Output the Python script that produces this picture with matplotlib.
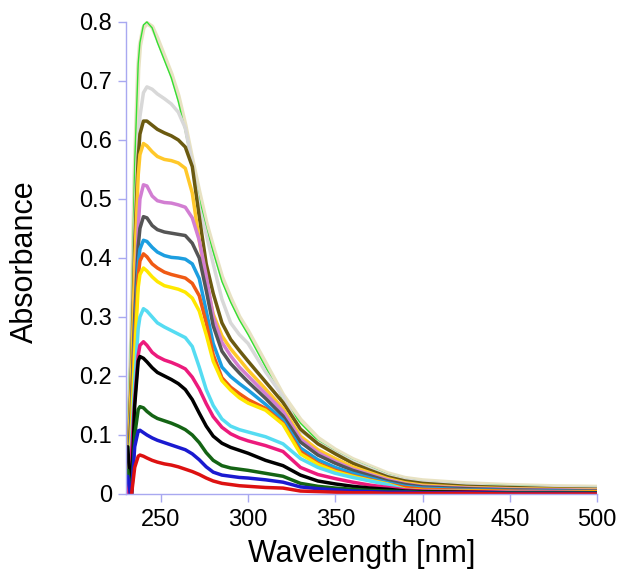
import matplotlib
matplotlib.use("Agg")
import matplotlib.pyplot as plt

plt.rcParams['font.family'] = ['Liberation Sans', 'DejaVu Sans']

wavelength = [231, 233, 235, 237, 238, 240, 242, 245, 248, 252, 256, 260, 264, 268, 272, 276,
              280, 285, 290, 295, 300, 310, 320, 330, 340, 350, 360, 370, 380, 390, 400,
              425, 450, 475, 500]

tan = [0.09, 0.26, 0.54, 0.72, 0.76, 0.79, 0.798, 0.792, 0.772, 0.742, 0.712, 0.675, 0.625, 0.567, 0.512, 0.46,
       0.418, 0.368, 0.332, 0.30, 0.276, 0.222, 0.168, 0.126, 0.095, 0.075, 0.059, 0.047, 0.035, 0.027, 0.023,
       0.018, 0.015, 0.013, 0.012]
green = [0.12, 0.29, 0.56, 0.73, 0.765, 0.795, 0.80, 0.79, 0.765, 0.735, 0.705, 0.665, 0.615, 0.555, 0.50, 0.45,
         0.41, 0.36, 0.325, 0.295, 0.27, 0.215, 0.16, 0.12, 0.09, 0.072, 0.057, 0.045, 0.033, 0.025, 0.021,
         0.016, 0.014, 0.012, 0.011]
lightgray = [0.07, 0.24, 0.45, 0.60, 0.64, 0.68, 0.69, 0.686, 0.678, 0.67, 0.661, 0.647, 0.62, 0.56, 0.485, 0.44,
             0.39, 0.33, 0.29, 0.27, 0.255, 0.207, 0.165, 0.107, 0.087, 0.07, 0.055, 0.043, 0.031, 0.024, 0.02,
             0.015, 0.012, 0.011, 0.010]
olive = [0.05, 0.20, 0.42, 0.57, 0.61, 0.632, 0.632, 0.625, 0.618, 0.612, 0.607, 0.60, 0.588, 0.555, 0.47, 0.39,
         0.34, 0.29, 0.262, 0.243, 0.225, 0.19, 0.155, 0.11, 0.085, 0.068, 0.052, 0.04, 0.029, 0.022, 0.018,
         0.013, 0.011, 0.009, 0.008]
gold = [0.04, 0.18, 0.39, 0.54, 0.575, 0.594, 0.59, 0.58, 0.572, 0.567, 0.565, 0.561, 0.552, 0.51, 0.43, 0.36,
        0.305, 0.268, 0.246, 0.228, 0.21, 0.178, 0.145, 0.098, 0.075, 0.06, 0.046, 0.036, 0.026, 0.019, 0.015,
        0.011, 0.009, 0.008, 0.007]
orchid = [0.0, 0.12, 0.30, 0.45, 0.50, 0.524, 0.522, 0.505, 0.497, 0.494, 0.493, 0.49, 0.486, 0.468, 0.43, 0.37,
          0.30, 0.257, 0.234, 0.215, 0.20, 0.17, 0.14, 0.093, 0.07, 0.055, 0.042, 0.033, 0.024, 0.017, 0.013,
          0.010, 0.008, 0.007, 0.006]
darkgray = [0.03, 0.14, 0.30, 0.42, 0.45, 0.47, 0.468, 0.455, 0.448, 0.444, 0.442, 0.44, 0.438, 0.425, 0.40, 0.345,
            0.285, 0.242, 0.221, 0.205, 0.19, 0.162, 0.132, 0.088, 0.066, 0.052, 0.04, 0.031, 0.022, 0.016, 0.012,
            0.009, 0.007, 0.006, 0.005]
skyblue = [0.02, 0.12, 0.27, 0.39, 0.415, 0.43, 0.428, 0.418, 0.41, 0.404, 0.401, 0.40, 0.398, 0.39, 0.365, 0.31,
           0.255, 0.215, 0.199, 0.187, 0.176, 0.152, 0.125, 0.078, 0.058, 0.045, 0.035, 0.027, 0.019, 0.013, 0.010,
           0.007, 0.006, 0.005, 0.004]
orange = [0.02, 0.11, 0.26, 0.37, 0.395, 0.407, 0.402, 0.39, 0.383, 0.376, 0.372, 0.369, 0.366, 0.357, 0.336, 0.29,
          0.236, 0.197, 0.181, 0.17, 0.16, 0.145, 0.12, 0.072, 0.052, 0.04, 0.031, 0.024, 0.017, 0.011, 0.008,
          0.006, 0.005, 0.004, 0.004]
yellow = [0.02, 0.10, 0.24, 0.35, 0.372, 0.383, 0.378, 0.368, 0.36, 0.353, 0.35, 0.347, 0.342, 0.332, 0.31, 0.27,
          0.225, 0.192, 0.176, 0.163, 0.154, 0.142, 0.118, 0.068, 0.05, 0.038, 0.03, 0.023, 0.017, 0.008, 0.006,
          0.005, 0.004, 0.003, 0.003]
cyan = [0.01, 0.08, 0.19, 0.28, 0.30, 0.314, 0.31, 0.30, 0.29, 0.283, 0.277, 0.271, 0.265, 0.25, 0.215, 0.177,
        0.15, 0.127, 0.115, 0.109, 0.105, 0.097, 0.085, 0.06, 0.045, 0.035, 0.028, 0.022, 0.016, 0.007, 0.005,
        0.004, 0.003, 0.003, 0.002]
pink = [0.0, 0.06, 0.16, 0.235, 0.252, 0.258, 0.252, 0.24, 0.233, 0.227, 0.223, 0.218, 0.212, 0.198, 0.178, 0.153,
        0.131, 0.113, 0.102, 0.095, 0.09, 0.082, 0.072, 0.045, 0.033, 0.026, 0.02, 0.015, 0.011, 0.007, 0.005,
        0.004, 0.003, 0.003, 0.002]
black = [0.08, -0.01, 0.15, 0.225, 0.233, 0.23, 0.224, 0.214, 0.206, 0.20, 0.194, 0.187, 0.177, 0.16, 0.137, 0.115,
         0.098, 0.086, 0.079, 0.074, 0.069, 0.057, 0.048, 0.032, 0.022, 0.017, 0.013, 0.010, 0.008, 0.005, 0.004,
         0.003, 0.002, 0.002, 0.002]
darkgreen = [0.04, -0.01, 0.10, 0.143, 0.148, 0.146, 0.14, 0.133, 0.128, 0.124, 0.12, 0.115, 0.109, 0.10, 0.087, 0.07,
             0.057, 0.048, 0.044, 0.042, 0.04, 0.035, 0.03, 0.018, 0.013, 0.010, 0.008, 0.006, 0.005, 0.004, 0.003,
             0.002, 0.002, 0.002, 0.002]
blue = [0.03, -0.01, 0.08, 0.107, 0.108, 0.104, 0.10, 0.095, 0.091, 0.087, 0.083, 0.079, 0.075, 0.068, 0.058, 0.046,
        0.037, 0.032, 0.03, 0.028, 0.027, 0.024, 0.02, 0.012, 0.009, 0.007, 0.005, 0.004, 0.003, 0.003, 0.002,
        0.002, 0.001, 0.001, 0.001]
red = [-0.05, -0.005, 0.045, 0.064, 0.066, 0.064, 0.061, 0.057, 0.054, 0.051, 0.049, 0.046, 0.042, 0.038, 0.033, 0.027,
       0.022, 0.018, 0.016, 0.014, 0.013, 0.011, 0.010, 0.005, 0.004, 0.003, 0.002, 0.002, 0.001, 0.001, 0.001,
       0.001, 0.0, 0.0, 0.0]

series = [
    (tan, '#e8e2c2', 3.2),
    (green, '#33e033', 1.0),
    (lightgray, '#d8d8d8', 2.5),
    (olive, '#6b5a10', 2.5),
    (gold, '#ffc82a', 2.5),
    (orchid, '#d27ed2', 2.5),
    (darkgray, '#555555', 2.5),
    (skyblue, '#1c9ee0', 2.5),
    (orange, '#f05a14', 2.5),
    (yellow, '#ffe800', 2.5),
    (cyan, '#55dcf2', 2.5),
    (pink, '#ec1a7c', 2.5),
    (black, '#000000', 2.5),
    (darkgreen, '#146414', 2.5),
    (blue, '#1a1ad0', 2.5),
    (red, '#dd1111', 2.5),
]

fig = plt.figure(figsize=(6.29, 5.88), dpi=100)
ax = fig.add_axes([0.2003, 0.1599, 0.7488, 0.8128])

for vals, col, lw in series:
    ax.plot(wavelength, vals, color=col, lw=lw, solid_joinstyle='round', solid_capstyle='round')

spine_col = '#a8a8f0'
ax.set_xlim(230, 500)
ax.set_ylim(0, 0.81)
for s in ['top', 'right']:
    ax.spines[s].set_visible(False)
for s in ['left', 'bottom']:
    ax.spines[s].set_color(spine_col)
    ax.spines[s].set_linewidth(1.0)
ax.spines['left'].set_bounds(0, 0.8)

yticks = [0, 0.1, 0.2, 0.3, 0.4, 0.5, 0.6, 0.7, 0.8]
ytlabels = ['0', '0.1', '0.2', '0.3', '0.4', '0.5', '0.6', '0.7', '0.8']
xticks = [250, 300, 350, 400, 450, 500]
ax.set_yticks(yticks)
ax.set_yticklabels(ytlabels)
ax.set_xticks(xticks)
ax.set_xticklabels([str(t) for t in xticks])
ax.tick_params(axis='both', colors=spine_col, labelcolor='black', labelsize=17,
               length=6, width=1.0, direction='out')
ax.tick_params(axis='y', pad=4)
ax.tick_params(axis='x', pad=5)

ax.set_xlabel('Wavelength [nm]', fontsize=22)
ax.set_ylabel('Absorbance', fontsize=22)
ax.yaxis.set_label_coords(-0.183, 0.485)
ax.xaxis.set_label_coords(0.5, -0.095)

fig.savefig('out.png', dpi=100, facecolor='white')
